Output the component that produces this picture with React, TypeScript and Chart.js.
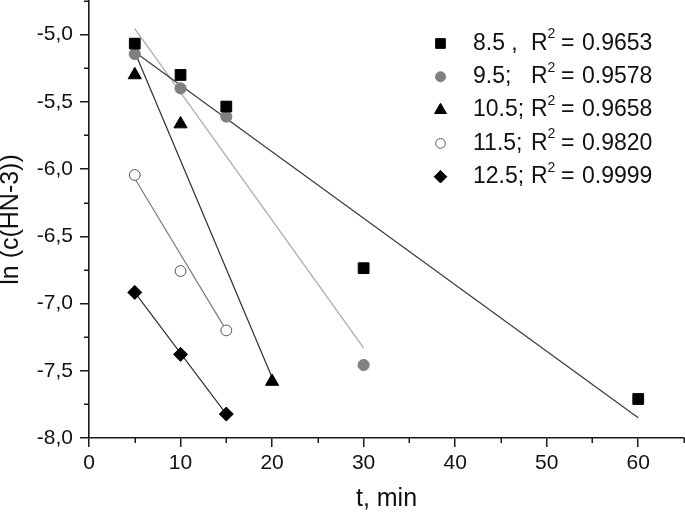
import { useEffect, useRef } from 'react';
import { Chart, registerables } from 'chart.js';

Chart.register(...registerables);

const FONT = '"Liberation Sans", Arial, Helvetica, sans-serif';
const INK = '#111111';
const AXIS = '#1a1a1a';

// measured points: t (min) and ln(c(HN-3))
const t85 = [5, 10, 15, 30, 60];
const y85 = [-5.067, -5.3, -5.535, -6.737, -7.71];
const t95 = [5, 10, 15, 30];
const y95 = [-5.144, -5.4, -5.61, -7.457];
const t105 = [5, 10, 20];
const y105 = [-5.3, -5.665, -7.58];
const t115 = [5, 10, 15];
const y115 = [-6.044, -6.758, -7.2];
const t125 = [5, 10, 15];
const y125 = [-6.917, -7.378, -7.822];

// fitted straight lines (start / end)
const fit85T = [5, 60];
const fit85Y = [-5.13, -7.85];
const fit95T = [5, 30];
const fit95Y = [-4.955, -7.33];
const fit105T = [5, 20];
const fit105Y = [-5.13, -7.55];
const fit115T = [5, 15];
const fit115Y = [-6.07, -7.2];
const fit125T = [5, 15];
const fit125Y = [-6.917, -7.822];

// legend texts
const legendPrefix = ['8.5 ,', '9.5;', '10.5;', '11.5;', '12.5;'];
const legendR2 = ['0.9653', '0.9578', '0.9658', '0.9820', '0.9999'];

// axis ranges / ticks
const xMin = 0;
const xMax = 65;
const xStep = 10;
const yMin = -8;
const yMax = -4.75;
const yStep = 0.5;

const pts = (t: number[], y: number[]) => t.map((v, i) => ({ x: v, y: y[i] }));
const isMultiple = (v: number, step: number) => Math.abs(v / step - Math.round(v / step)) < 1e-6;

const markerDefs = [
  { style: 'rect', r: 7.6, bg: '#000000', bd: '#000000', bw: 1 },
  { style: 'circle', r: 5.6, bg: '#808080', bd: '#808080', bw: 1 },
  { style: 'triangle', r: 7.6, bg: '#000000', bd: '#000000', bw: 1 },
  { style: 'circle', r: 5.4, bg: '#ffffff', bd: '#555555', bw: 1 },
  { style: 'rectRot', r: 7, bg: '#000000', bd: '#000000', bw: 1 },
];

function drawMarker(ctx: CanvasRenderingContext2D, m: any, x: number, y: number, scale: number) {
  const r = m.r * scale;
  ctx.save();
  ctx.fillStyle = m.bg;
  ctx.strokeStyle = m.bd;
  ctx.lineWidth = m.bw;
  ctx.beginPath();
  if (m.style === 'rect') {
    const s = r * Math.SQRT1_2;
    ctx.rect(x - s, y - s, 2 * s, 2 * s);
  } else if (m.style === 'circle') {
    ctx.arc(x, y, r, 0, Math.PI * 2);
  } else if (m.style === 'triangle') {
    ctx.moveTo(x, y - r);
    ctx.lineTo(x + Math.sin((2 * Math.PI) / 3) * r, y - Math.cos((2 * Math.PI) / 3) * r);
    ctx.lineTo(x + Math.sin((4 * Math.PI) / 3) * r, y - Math.cos((4 * Math.PI) / 3) * r);
    ctx.closePath();
  } else {
    ctx.moveTo(x, y - r);
    ctx.lineTo(x + r, y);
    ctx.lineTo(x, y + r);
    ctx.lineTo(x - r, y);
    ctx.closePath();
  }
  ctx.fill();
  ctx.stroke();
  ctx.restore();
}

const minorTicksPlugin = {
  id: 'minorTicks',
  afterDraw(chart: any) {
    const { ctx, scales } = chart;
    const x = scales.x;
    const y = scales.y;
    ctx.save();
    ctx.strokeStyle = AXIS;
    ctx.lineWidth = 1.5;
    ctx.beginPath();
    for (let v = xMin + xStep / 2; v <= xMax + 1e-9; v += xStep) {
      const px = Math.min(Math.round(x.getPixelForValue(v)), chart.width - 1) + 0.25;
      ctx.moveTo(px, x.top);
      ctx.lineTo(px, x.top + 5);
    }
    for (let v = yMin + yStep / 2; v <= yMax + 1e-9; v += yStep) {
      const py = Math.max(Math.round(y.getPixelForValue(v)), 1) + 0.25;
      ctx.moveTo(y.right, py);
      ctx.lineTo(y.right - 5, py);
    }
    ctx.stroke();
    ctx.restore();
  },
};

const legendPlugin = {
  id: 'inlineLegend',
  afterDraw(chart: any) {
    const ctx: CanvasRenderingContext2D = chart.ctx;
    ctx.save();
    ctx.textBaseline = 'middle';
    ctx.textAlign = 'left';
    legendPrefix.forEach((p, i) => {
      const cy = 43.5 + i * 33.3;
      drawMarker(ctx, markerDefs[i], 440.5, cy, 0.9);
      ctx.fillStyle = INK;
      ctx.font = `23px ${FONT}`;
      ctx.fillText(p, 473, cy);
      ctx.fillText('R', 531, cy);
      ctx.font = `14px ${FONT}`;
      ctx.fillText('2', 547.5, cy - 9);
      ctx.font = `23px ${FONT}`;
      ctx.fillText('=', 561, cy);
      ctx.fillText(legendR2[i], 582, cy);
    });
    ctx.restore();
  },
};

export default function App() {
  const ref = useRef<HTMLCanvasElement | null>(null);

  useEffect(() => {
    document.body.style.margin = '0';
    const canvas = ref.current;
    if (!canvas) return;

    const fits = [
      { t: fit85T, y: fit85Y, c: '#3a3a3a' },
      { t: fit95T, y: fit95Y, c: '#a8a8a8' },
      { t: fit105T, y: fit105Y, c: '#2e2e2e' },
      { t: fit115T, y: fit115Y, c: '#7a7a7a' },
      { t: fit125T, y: fit125Y, c: '#2e2e2e' },
    ];
    const series = [
      { t: t85, y: y85 },
      { t: t95, y: y95 },
      { t: t105, y: y105 },
      { t: t115, y: y115 },
      { t: t125, y: y125 },
    ];

    const datasets: any[] = [];
    series.forEach((s, i) => {
      const m = markerDefs[i];
      datasets.push({
        type: 'scatter',
        label: legendPrefix[i],
        data: pts(s.t, s.y),
        pointStyle: m.style,
        pointRadius: m.r,
        pointHoverRadius: m.r,
        backgroundColor: m.bg,
        borderColor: m.bd,
        pointBorderWidth: m.bw,
        showLine: false,
        clip: false,
        order: 0,
      });
    });
    fits.forEach((f) => {
      datasets.push({
        type: 'scatter',
        label: 'fit',
        data: pts(f.t, f.y),
        showLine: true,
        borderColor: f.c,
        borderWidth: 1.2,
        pointRadius: 0,
        pointHoverRadius: 0,
        order: 10,
      });
    });

    const chart = new Chart(canvas, {
      type: 'scatter',
      data: { datasets },
      options: {
        animation: false,
        responsive: false,
        maintainAspectRatio: false,
        layout: { autoPadding: false, padding: { top: 1, right: 1, left: 0, bottom: 0 } },
        plugins: { legend: { display: false }, tooltip: { enabled: false } },
        scales: {
          x: {
            type: 'linear',
            min: xMin,
            max: xMax,
            bounds: 'data',
            border: { display: true, color: AXIS, width: 1.6 },
            grid: { display: true, drawOnChartArea: false, drawTicks: true, tickLength: 9, color: AXIS, lineWidth: 1.5 },
            ticks: {
              stepSize: xStep,
              includeBounds: false,
              autoSkip: false,
              maxRotation: 0,
              padding: 4,
              color: INK,
              font: { family: FONT, size: 21 },
              callback: (v: any) => String(v),
            },
            title: {
              display: true,
              text: 't, min',
              color: INK,
              font: { family: FONT, size: 25 },
              padding: { top: 0, bottom: 0 },
            },
            afterBuildTicks: (s: any) => {
              s.ticks = s.ticks.filter((tk: any) => isMultiple(tk.value, xStep));
            },
            afterFit: (s: any) => {
              s.height = 76;
              s.paddingLeft = 0;
              s.paddingRight = 0;
              s.paddingTop = 0;
              s.paddingBottom = 0;
            },
          },
          y: {
            type: 'linear',
            min: yMin,
            max: yMax,
            bounds: 'data',
            border: { display: true, color: AXIS, width: 1.6 },
            grid: { display: true, drawOnChartArea: false, drawTicks: true, tickLength: 9, color: AXIS, lineWidth: 1.5 },
            ticks: {
              stepSize: yStep,
              includeBounds: false,
              autoSkip: false,
              padding: 7,
              color: INK,
              font: { family: FONT, size: 21 },
              callback: (v: any) => Number(v).toFixed(1).replace('.', ','),
            },
            title: {
              display: true,
              text: 'ln (c(HN-3))',
              color: INK,
              font: { family: FONT, size: 25, lineHeight: 0.9 },
              padding: { top: 0, bottom: 0 },
            },
            afterBuildTicks: (s: any) => {
              s.ticks = s.ticks.filter((tk: any) => isMultiple(tk.value, yStep));
            },
            afterFit: (s: any) => {
              s.width = 89;
              s.paddingLeft = 0;
              s.paddingRight = 0;
              s.paddingTop = 0;
              s.paddingBottom = 0;
            },
          },
        },
      },
      plugins: [minorTicksPlugin, legendPlugin],
    } as any);

    return () => chart.destroy();
  }, []);

  return (
    <div style={{ position: 'absolute', left: 0, top: 0, width: 685, height: 514, background: '#fff' }}>
      <canvas ref={ref} width={685} height={514} />
    </div>
  );
}
